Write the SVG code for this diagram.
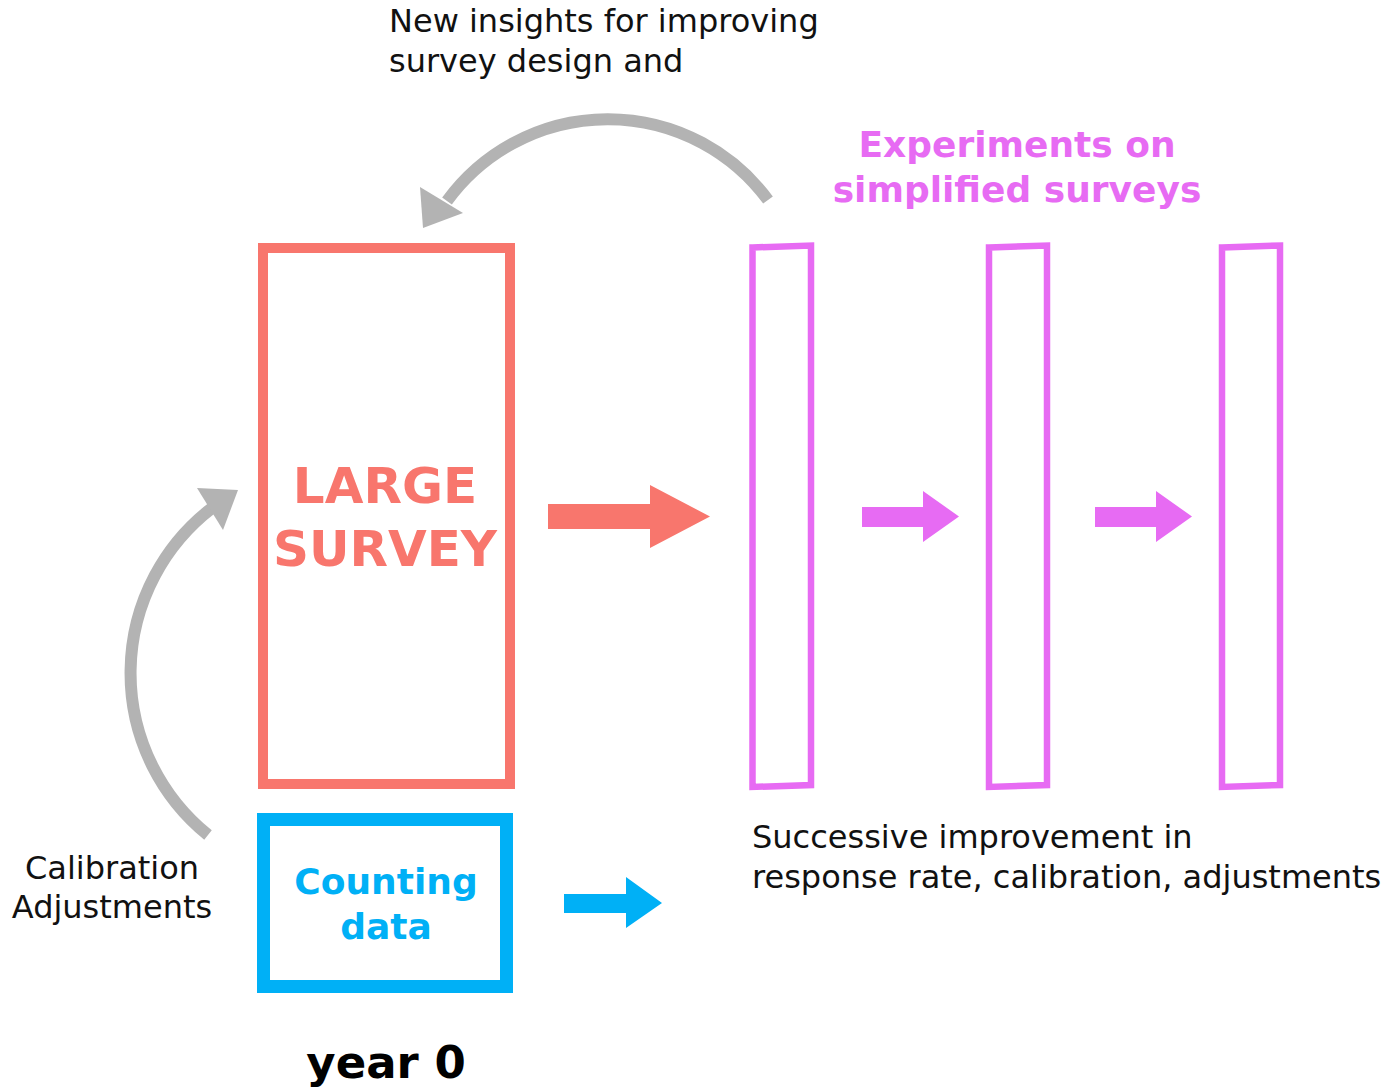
<svg xmlns="http://www.w3.org/2000/svg" width="1390" height="1088" viewBox="0 0 1390 1088">
<style>
text{font-family:"DejaVu Sans","Verdana",sans-serif}
.reg{font-size:32px;fill:#111}
.bold{font-weight:bold}
.exp{fill:none;stroke:#E76BF3;stroke-width:6.5;stroke-linejoin:miter}
.gray{fill:none;stroke:#B3B3B3;stroke-width:12}
</style>
<rect width="1390" height="1088" fill="#fff"/>
<g id="large-survey">
<rect x="263" y="248" width="247" height="536" fill="none" stroke="#F8766D" stroke-width="10"/>
<text class="bold" x="385" y="503" font-size="50" fill="#F8766D" text-anchor="middle">LARGE</text>
<text class="bold" x="385" y="566" font-size="50" fill="#F8766D" text-anchor="middle">SURVEY</text>
</g>
<g id="counting-data">
<rect x="263.5" y="819.5" width="243" height="167" fill="none" stroke="#00B0F6" stroke-width="13"/>
<text class="bold" x="386" y="894" font-size="36" fill="#00B0F6" text-anchor="middle">Counting</text>
<text class="bold" x="386" y="939" font-size="36" fill="#00B0F6" text-anchor="middle">data</text>
</g>
<g id="experiment-1"><polygon class="exp" points="752.5,247.5 811,245.5 811,785 752.5,787"/></g>
<g id="experiment-2"><polygon class="exp" points="989,247.5 1047,245.5 1047,785 989,787"/></g>
<g id="experiment-3"><polygon class="exp" points="1222,247.5 1280,245.5 1280,785 1222,787"/></g>
<g id="experiments-label">
<text class="bold" x="1017" y="157" font-size="36" fill="#E76BF3" text-anchor="middle">Experiments on</text>
<text class="bold" x="1017" y="202" font-size="36" fill="#E76BF3" text-anchor="middle">simplified surveys</text>
</g>
<g id="insights-label">
<text class="reg" x="389" y="32">New insights for improving</text>
<text class="reg" x="389" y="72">survey design and</text>
</g>
<g id="calibration-label">
<text class="reg" x="112" y="879" text-anchor="middle">Calibration</text>
<text class="reg" x="112" y="918" text-anchor="middle">Adjustments</text>
</g>
<g id="improvement-label">
<text class="reg" x="752" y="848">Successive improvement in</text>
<text class="reg" x="752" y="888">response rate, calibration, adjustments</text>
</g>
<g id="year-label">
<text class="bold" x="386" y="1078" font-size="45" fill="#000" text-anchor="middle">year 0</text>
</g>
<g id="connectors">
<polygon fill="#F8766D" points="548,504 650,504 650,485 710,516.5 650,548 650,529 548,529"/>
<polygon fill="#E76BF3" points="862,507 923,507 923,491 959,516.5 923,542 923,527 862,527"/>
<polygon fill="#E76BF3" points="1095,507 1156,507 1156,491 1192,516.5 1156,542 1156,527 1095,527"/>
<polygon fill="#00B0F6" points="564,894 626,894 626,877 662,903 626,928 626,913 564,913"/>
<path class="gray" d="M768,200 A199,199 0 0 0 447,201"/>
<polygon fill="#B3B3B3" points="423,228 420,187 463,213"/>
<path class="gray" d="M208,835 A208,208 0 0 1 212,508"/>
<polygon fill="#B3B3B3" points="238,490 197,488 223,530"/>
</g>
</svg>
